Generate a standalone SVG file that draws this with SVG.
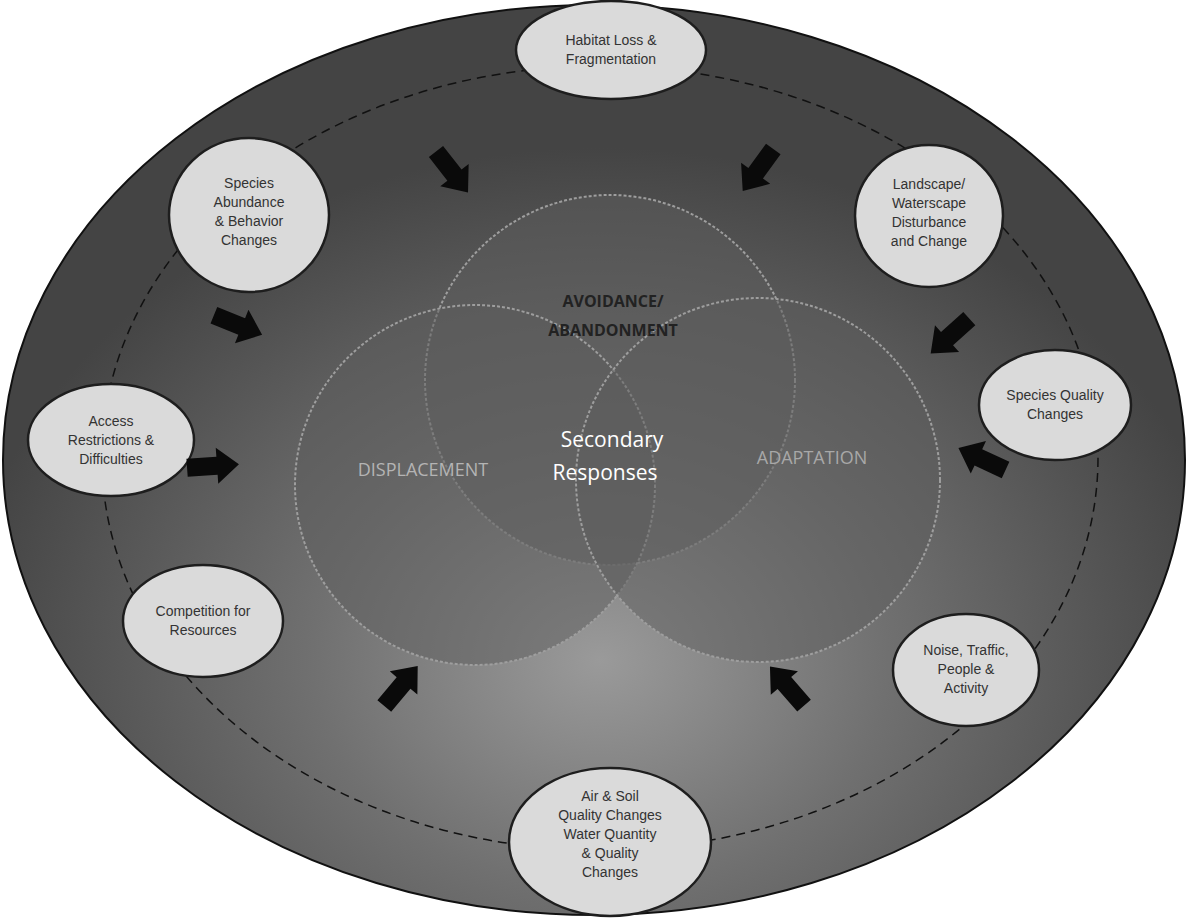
<svg xmlns="http://www.w3.org/2000/svg" width="1197" height="920" viewBox="0 0 1197 920">
<defs>
<radialGradient id="bg" cx="600" cy="660" r="640" gradientUnits="userSpaceOnUse" gradientTransform="translate(600 660) scale(1 0.8) translate(-600 -660)">
<stop offset="0" stop-color="#9a9a9a"/>
<stop offset="0.45" stop-color="#707070"/>
<stop offset="1" stop-color="#444"/>
</radialGradient>
<polygon id="arr" points="-26,-9 4,-9 4,-18 26,0 4,18 4,9 -26,9"/>
</defs>
<style>
.node ellipse{fill:#dadada;stroke:#1e1e1e;stroke-width:2.5}
.node text{font-family:"Liberation Sans",Arial,sans-serif;font-size:14px;fill:#333;text-anchor:middle}
.venn{fill:#5c5c5c;fill-opacity:0.5;stroke:#9e9e9e;stroke-width:2;stroke-dasharray:3 2}
.lab{font-family:"Open Sans","Liberation Sans",sans-serif;text-anchor:middle}
.arrows use{fill:#0a0a0a}
</style>
<rect width="1197" height="920" fill="#fff"/>
<ellipse cx="594" cy="460" rx="591" ry="455" fill="url(#bg)" stroke="#111" stroke-width="2"/>
<ellipse cx="600" cy="458" rx="498" ry="392" fill="none" stroke="#111" stroke-width="1.5" stroke-dasharray="9 6"/>
<g id="venn">
<circle class="venn" cx="610" cy="380" r="185"/>
<circle class="venn" cx="475" cy="485" r="180"/>
<circle class="venn" cx="758" cy="480" r="182"/>
</g>
<g id="labels">
<text class="lab" x="613" y="307" font-size="16" font-weight="bold" fill="#222">AVOIDANCE/</text>
<text class="lab" x="613" y="336" font-size="16" font-weight="bold" fill="#222">ABANDONMENT</text>
<text class="lab" x="612" y="447" font-size="21" fill="#fff">Secondary</text>
<text class="lab" x="605" y="480" font-size="21" fill="#fff">Responses</text>
<text class="lab" x="423" y="476" font-size="18" fill="#b4b4b4">DISPLACEMENT</text>
<text class="lab" x="812" y="464" font-size="18" fill="#a8a8a8">ADAPTATION</text>
</g>
<g id="n1" class="node"><ellipse cx="611" cy="50" rx="95" ry="49"/><text x="611" y="45">Habitat Loss &amp;</text><text x="611" y="64">Fragmentation</text></g>
<g id="n2" class="node"><ellipse cx="929" cy="216" rx="74" ry="71"/><text x="929" y="189">Landscape/</text><text x="929" y="208">Waterscape</text><text x="929" y="227">Disturbance</text><text x="929" y="246">and Change</text></g>
<g id="n3" class="node"><ellipse cx="1055" cy="405" rx="76" ry="55"/><text x="1055" y="400">Species Quality</text><text x="1055" y="419">Changes</text></g>
<g id="n4" class="node"><ellipse cx="966" cy="670" rx="73" ry="56"/><text x="966" y="655">Noise, Traffic,</text><text x="966" y="674">People &amp;</text><text x="966" y="693">Activity</text></g>
<g id="n5" class="node"><ellipse cx="610" cy="842" rx="101" ry="74"/><text x="610" y="801">Air &amp; Soil</text><text x="610" y="820">Quality Changes</text><text x="610" y="839">Water Quantity</text><text x="610" y="858">&amp; Quality</text><text x="610" y="877">Changes</text></g>
<g id="n6" class="node"><ellipse cx="203" cy="621" rx="80" ry="56"/><text x="203" y="616">Competition for</text><text x="203" y="635">Resources</text></g>
<g id="n7" class="node"><ellipse cx="111" cy="440" rx="83" ry="56"/><text x="111" y="426">Access</text><text x="111" y="445">Restrictions &amp;</text><text x="111" y="464">Difficulties</text></g>
<g id="n8" class="node"><ellipse cx="249" cy="215" rx="80" ry="77"/><text x="249" y="188">Species</text><text x="249" y="207">Abundance</text><text x="249" y="226">&amp; Behavior</text><text x="249" y="245">Changes</text></g>
<g id="connectors" class="arrows">
<use href="#arr" transform="translate(452 172) rotate(52)"/>
<use href="#arr" transform="translate(758 170) rotate(126)"/>
<use href="#arr" transform="translate(950 336) rotate(138)"/>
<use href="#arr" transform="translate(982 459) rotate(205)"/>
<use href="#arr" transform="translate(787 686) rotate(229)"/>
<use href="#arr" transform="translate(401 686) rotate(-50)"/>
<use href="#arr" transform="translate(213 466) rotate(-4)"/>
<use href="#arr" transform="translate(238 325) rotate(22)"/>
</g>
</svg>
